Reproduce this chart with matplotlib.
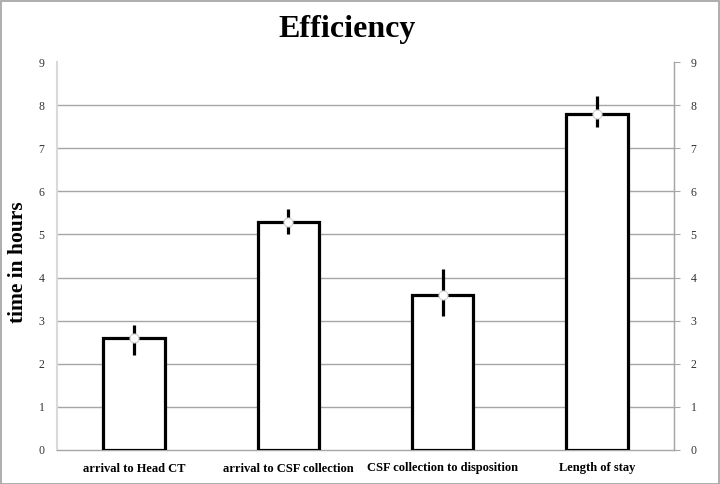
import matplotlib
matplotlib.use("Agg")
import matplotlib.pyplot as plt
import numpy as np

categories = ["arrival to Head CT", "arrival to CSF collection",
              "CSF collection to disposition", "Length of stay"]
values = [2.6, 5.3, 3.6, 7.8]
err_low = [2.2, 5.0, 3.1, 7.5]
err_high = [2.9, 5.6, 4.2, 8.2]
yticks = list(range(0, 10))

fig = plt.figure(figsize=(7.2, 4.84), dpi=100)
ax = fig.add_axes([57/720, 34/484, 617/720, 388/484])

x = np.arange(len(categories))
ax.bar(x, values, width=0.4, facecolor="white", edgecolor="black",
       linewidth=2.3, zorder=3)
lo = np.array(values) - np.array(err_low)
hi = np.array(err_high) - np.array(values)
ax.errorbar(x, values, yerr=[lo, hi], fmt="o", color="black", ecolor="black",
            elinewidth=2.3, capsize=0, markersize=6.5, markerfacecolor="white",
            markeredgecolor="#d0d0d0", markeredgewidth=0.8, zorder=4)

ax.set_xlim(-0.5, len(categories) - 0.5)
ax.set_ylim(0, 9)
ax.set_yticks(yticks)
ax.set_xticks(x)
ax.set_xticklabels(categories, fontfamily="Liberation Serif", fontweight="bold",
                   fontsize=9)
ax.tick_params(axis="x", length=0, pad=9)
ax.tick_params(axis="y", length=0, labelsize=8.5, labelcolor="#333333", pad=9)
for lab in ax.get_yticklabels():
    lab.set_fontfamily("Liberation Serif")
for yv in yticks[1:-1]:
    ax.axhline(yv, color="#a6a6a6", linewidth=1, zorder=1)

ax.spines["top"].set_visible(False)
ax.spines["left"].set_color("#d9d9d9")
ax.spines["left"].set_linewidth(1.5)
ax.spines["bottom"].set_color("#a6a6a6")
ax.spines["bottom"].set_linewidth(1)
ax.spines["right"].set_color("#a6a6a6")
ax.spines["right"].set_linewidth(1)

ax2 = ax.twinx()
ax2.set_ylim(0, 9)
ax2.set_yticks(yticks)
ax2.tick_params(axis="y", length=4, color="#a6a6a6", labelsize=8.5,
                labelcolor="#333333", pad=8)
for lab in ax2.get_yticklabels():
    lab.set_fontfamily("Liberation Serif")
for s in ["top", "left", "bottom"]:
    ax2.spines[s].set_visible(False)
ax2.spines["right"].set_color("#a6a6a6")

fig.text(18/720, 1 - 262/484, "time in hours", rotation=90, ha="center",
         va="center", fontfamily="Liberation Serif", fontweight="bold",
         fontsize=15.5)

fig.text(347/720, 1 - 30/484, "Efficiency", ha="center", va="center",
         fontfamily="Liberation Serif", fontweight="bold", fontsize=23)

border = plt.Rectangle((0.5/720, 0.5/484), 1 - 1.5/720, 1 - 1.5/484,
                       transform=fig.transFigure, fill=False,
                       edgecolor="#a0a0a0", linewidth=1.2)
fig.patches.append(border)

fig.savefig("out.png", dpi=100)
